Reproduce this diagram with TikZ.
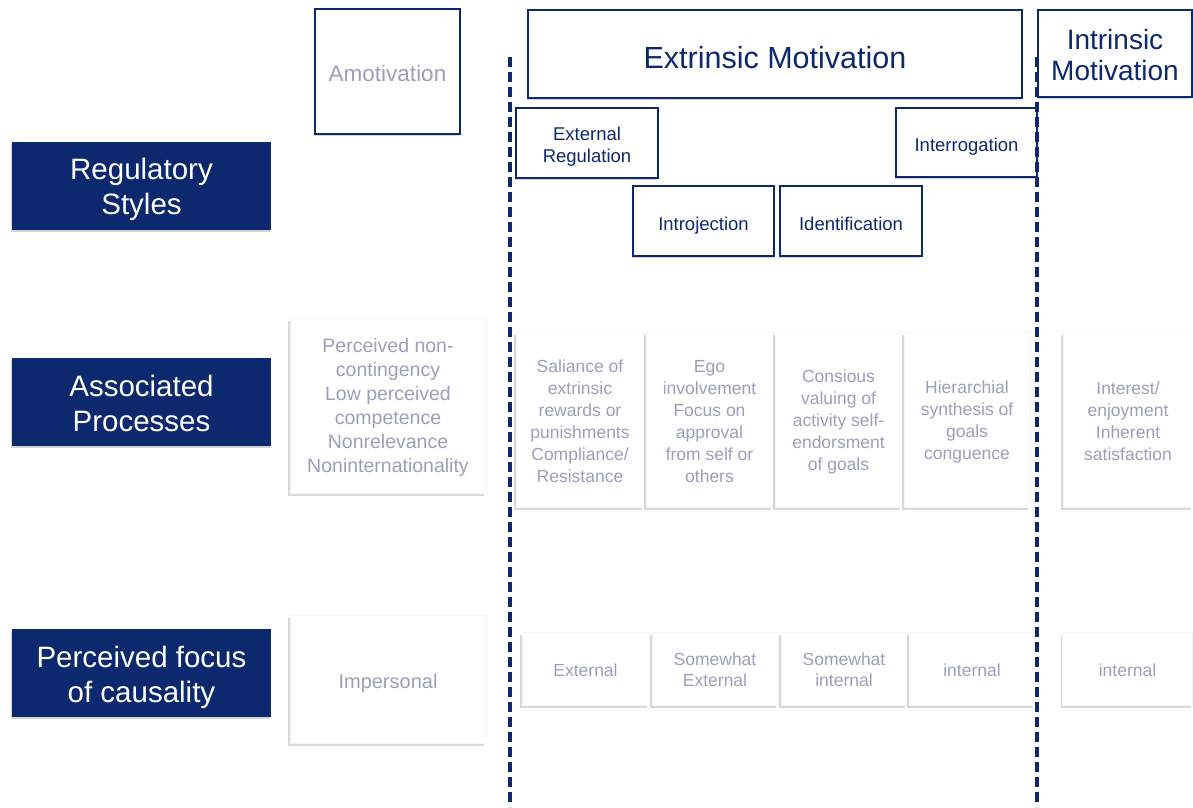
\documentclass[tikz,border=0pt]{standalone}
\usepackage{fontspec}
\setmainfont{Liberation Sans}
\usetikzlibrary{shadows}
\definecolor{navy}{RGB}{12,40,110}
\definecolor{softtxt}{RGB}{155,160,186}
\newcommand{\lowr}[1]{\rule{0pt}{\dimexpr\fontcharht\font`l+0.2em+#1*2\relax}}
\newcommand{\lowm}[1]{\rule{0pt}{\dimexpr\fontcharht\font`l+#1*2\relax}}
\tikzset{
  lowertext/.style={execute at begin node={\lowr{#1}}},
  lowertext/.default=0pt,
  hdrbox/.style={draw=navy, line width=1.3pt, fill=white, text=navy, align=center, inner sep=0pt,
    drop shadow={shadow xshift=-1.5pt, shadow yshift=-2pt, opacity=0.35}},
  sidelabel/.style={fill=navy, text=white, align=center, inner sep=0pt,
    font=\fontsize{29.5}{35}\selectfont, minimum width=259pt, minimum height=88pt,
    drop shadow={shadow xshift=-1.5pt, shadow yshift=-2pt, opacity=0.35}},
  cellbox/.style={draw=gray!8, line width=0.4pt, fill=white, text=softtxt, align=center, inner sep=0pt,
    drop shadow={shadow xshift=-2pt, shadow yshift=-2.5pt, opacity=0.3}},
  divider/.style={draw=navy, line width=4pt, dash pattern=on 10pt off 5pt},
}
\begin{document}
\begin{tikzpicture}[x=1pt,y=-1pt]
\useasboundingbox (0,0) rectangle (1193,807);
% header boxes
\node[hdrbox, lowertext=0pt, text=softtxt, minimum width=145pt, minimum height=125pt, font=\fontsize{22.5}{26}\selectfont] (amot) at (387.5,71.5) {Amotivation};
\node[hdrbox, lowertext=1pt, minimum width=494pt, minimum height=88pt, font=\fontsize{30.5}{34}\selectfont] (extr) at (775,54) {Extrinsic Motivation};
\node[hdrbox, minimum width=154pt, minimum height=87pt, font=\fontsize{28}{31}\selectfont] (intr) at (1115,53.5) {\lowm{1.5pt}Intrinsic\\Motivation};
\node[hdrbox, minimum width=142pt, minimum height=70pt, font=\fontsize{18.5}{22}\selectfont] (extreg) at (587,143) {\lowm{4.5pt}External\\Regulation};
\node[hdrbox, lowertext=3pt, minimum width=141pt, minimum height=69pt, font=\fontsize{18.5}{22}\selectfont] (interrog) at (966.5,142.5) {Interrogation};
\node[hdrbox, lowertext=3pt, minimum width=141pt, minimum height=70pt, font=\fontsize{18.5}{22}\selectfont] (introj) at (703.5,221) {Introjection};
\node[hdrbox, lowertext=1pt, minimum width=142pt, minimum height=70pt, font=\fontsize{18.5}{22}\selectfont] (ident) at (851,221) {Identification};
% side labels
\node[sidelabel] (rs) at (141.5,186) {\lowm{4pt}Regulatory\\Styles};
\node[sidelabel] (ap) at (141.5,402) {\lowm{1.5pt}Associated\\Processes};
\node[sidelabel] (pf) at (141.5,673) {\lowm{4.5pt}Perceived focus\\of causality};
% associated processes row
\node[cellbox, minimum width=196pt, minimum height=175pt, font=\fontsize{19.5}{24}\selectfont] (pa0) at (388,405.5)
  {\lowm{2.5pt}Perceived non-\\contingency\\Low perceived\\competence\\Nonrelevance\\Noninternationality};
\node[cellbox, minimum width=128pt, minimum height=175pt, font=\fontsize{17.5}{22}\selectfont] (pa1) at (580,419.5)
  {\lowm{2pt}Saliance of\\extrinsic\\rewards or\\punishments\\Compliance/\\Resistance};
\node[cellbox, minimum width=127pt, minimum height=175pt, font=\fontsize{17.5}{22}\selectfont] (pa2) at (709.5,419.5)
  {\lowm{2pt}Ego\\involvement\\Focus on\\approval\\from self or\\others};
\node[cellbox, minimum width=127pt, minimum height=175pt, font=\fontsize{17.5}{22}\selectfont] (pa3) at (838.5,419.5)
  {\lowm{3pt}Consious\\valuing of\\activity self-\\endorsment\\of goals};
\node[cellbox, minimum width=126pt, minimum height=175pt, font=\fontsize{17.5}{22}\selectfont] (pa4) at (967,419.5)
  {\lowm{2.5pt}Hierarchial\\synthesis of\\goals\\conguence};
\node[cellbox, minimum width=130pt, minimum height=175pt, font=\fontsize{17.5}{22}\selectfont] (pa5) at (1128,419.5)
  {\lowm{2pt}Interest/\\enjoyment\\Inherent\\satisfaction};
% perceived focus row
\node[cellbox, lowertext=3pt, minimum width=196pt, minimum height=128pt, font=\fontsize{20}{23}\selectfont] (pc0) at (388,679) {Impersonal};
\node[cellbox, lowertext=0pt, minimum width=127pt, minimum height=73pt, font=\fontsize{17.5}{21}\selectfont] (pc1) at (585.5,668.5) {External};
\node[cellbox, minimum width=126pt, minimum height=73pt, font=\fontsize{17.5}{21}\selectfont] (pc2) at (715,668.5) {\lowm{2pt}Somewhat\\External};
\node[cellbox, minimum width=126pt, minimum height=73pt, font=\fontsize{17.5}{21}\selectfont] (pc3) at (844,668.5) {\lowm{2pt}Somewhat\\internal};
\node[cellbox, lowertext=0pt, minimum width=126pt, minimum height=73pt, font=\fontsize{17.5}{21}\selectfont] (pc4) at (972,668.5) {internal};
\node[cellbox, lowertext=0pt, minimum width=130pt, minimum height=73pt, font=\fontsize{17.5}{21}\selectfont] (pc5) at (1127.5,668.5) {internal};
% dividers
\coordinate (d1t) at (510,57);
\coordinate (d1b) at (510,807);
\coordinate (d2t) at (1037,57);
\coordinate (d2b) at (1037,807);
\draw[divider] (d1t) -- (d1b);
\draw[divider] (d2t) -- (d2b);
\end{tikzpicture}
\end{document}
